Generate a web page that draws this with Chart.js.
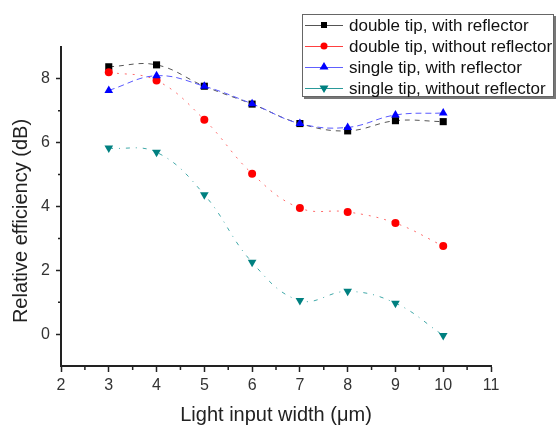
<!DOCTYPE html>
<html>
<head>
<meta charset="utf-8">
<title>Relative efficiency vs light input width</title>
<script src="https://cdn.jsdelivr.net/npm/chart.js@4/dist/chart.umd.min.js"></script>
<style>
  html, body { margin: 0; padding: 0; background: #fff; }
  #wrap { width: 557px; height: 428px; }
</style>
</head>
<body>
<div id="wrap"><canvas id="c" width="557" height="428"></canvas></div>
<script>
// Light input width (µm)
const widths = [3, 4, 5, 6, 7, 8, 9, 10];

// Relative efficiency (dB) per configuration
const doubleTipWithReflector    = [8.38, 8.44, 7.77, 7.21, 6.60, 6.37, 6.69, 6.66];
const doubleTipWithoutReflector = [8.21, 7.95, 6.72, 5.03, 3.95, 3.83, 3.48, 2.76];
const singleTipWithReflector    = [7.64, 8.10, 7.77, 7.22, 6.60, 6.48, 6.87, 6.93];
const singleTipWithoutReflector = [5.83, 5.70, 4.37, 2.25, 1.05, 1.34, 0.97, -0.04];

const seriesLabels = [
  'double tip, with reflector',
  'double tip, without reflector',
  'single tip, with reflector',
  'single tip, without reflector'
];

// Axis ticks
const xTickValues = [2, 3, 4, 5, 6, 7, 8, 9, 10, 11];
const yTickValues = [0, 2, 4, 6, 8];
const xMinorTicks = [2.5, 3.5, 4.5, 5.5, 6.5, 7.5, 8.5, 9.5, 10.5];
const yMinorTicks = [1, 3, 5, 7];

const FONT = '"Liberation Sans", Arial, sans-serif';
const AXIS_COLOR = '#222';

function pts(values) {
  return widths.map((x, i) => ({ x: x, y: values[i] }));
}

const datasets = [
  {
    label: seriesLabels[0], data: pts(doubleTipWithReflector),
    borderColor: '#555', borderWidth: 1, borderDash: [5, 5],
    pointStyle: 'rect', pointRadius: 5, pointBackgroundColor: '#000', pointBorderColor: '#000', pointBorderWidth: 0,
    order: 3, legendLine: '#555', legendMarker: 'rect'
  },
  {
    label: seriesLabels[1], data: pts(doubleTipWithoutReflector),
    borderColor: '#ff6b6b', borderWidth: 1, borderDash: [2, 6],
    pointStyle: 'circle', pointRadius: 4, pointBackgroundColor: '#ff0000', pointBorderColor: '#ff0000', pointBorderWidth: 0,
    order: 2, legendLine: '#ff4040', legendMarker: 'circle'
  },
  {
    label: seriesLabels[2], data: pts(singleTipWithReflector),
    borderColor: '#5a5aff', borderWidth: 1, borderDash: [6, 4],
    pointStyle: 'triangle', pointRadius: 5, pointBackgroundColor: '#0000ff', pointBorderColor: '#0000ff', pointBorderWidth: 0,
    order: 1, legendLine: '#6060ff', legendMarker: 'triangle'
  },
  {
    label: seriesLabels[3], data: pts(singleTipWithoutReflector),
    borderColor: '#40a8a8', borderWidth: 1, borderDash: [4, 6, 1, 6],
    pointStyle: 'triangle', pointRotation: 180, pointRadius: 5, pointBackgroundColor: '#008080', pointBorderColor: '#008080', pointBorderWidth: 0,
    order: 0, legendLine: '#2a9a9a', legendMarker: 'triangleDown'
  }
];

// Short minor tick marks outside both axes
const minorTicks = {
  id: 'minorTicks',
  afterDraw(chart) {
    const ctx = chart.ctx, x = chart.scales.x, y = chart.scales.y;
    ctx.save();
    ctx.strokeStyle = AXIS_COLOR;
    ctx.lineWidth = 1.5;
    ctx.beginPath();
    xMinorTicks.forEach(v => {
      const px = x.getPixelForValue(v);
      ctx.moveTo(px, y.bottom);
      ctx.lineTo(px, y.bottom + 4);
    });
    yMinorTicks.forEach(v => {
      const py = y.getPixelForValue(v);
      ctx.moveTo(x.left, py);
      ctx.lineTo(x.left - 3, py);
    });
    ctx.stroke();
    ctx.restore();
  }
};

// Axis titles
const axisTitles = {
  id: 'axisTitles',
  afterDraw(chart) {
    const ctx = chart.ctx, area = chart.chartArea;
    ctx.save();
    ctx.fillStyle = '#222';
    ctx.font = '20px ' + FONT;
    ctx.textAlign = 'center';
    ctx.textBaseline = 'middle';
    ctx.fillText('Light input width (\u03bcm)', (area.left + area.right) / 2, 415);
    ctx.translate(21, 221);
    ctx.rotate(-Math.PI / 2);
    ctx.fillText('Relative efficiency (dB)', 0, 0);
    ctx.restore();
  }
};

// Boxed legend in the upper right corner
const boxLegend = {
  id: 'boxLegend',
  afterDraw(chart) {
    const ctx = chart.ctx;
    const bx = 302, by = 14, bw = 252, bh = 83;
    ctx.save();
    ctx.fillStyle = '#777';
    ctx.fillRect(bx + 2, by + 2, bw, bh);
    ctx.fillStyle = '#fff';
    ctx.fillRect(bx, by, bw, bh);
    ctx.strokeStyle = '#666';
    ctx.lineWidth = 1;
    ctx.strokeRect(bx + 0.5, by + 0.5, bw - 1, bh - 1);

    const rows = [25, 46, 67, 88];
    chart.data.datasets.forEach((ds, i) => {
      const ry = rows[i];
      ctx.strokeStyle = ds.legendLine;
      ctx.lineWidth = 1;
      ctx.setLineDash([]);
      ctx.beginPath();
      ctx.moveTo(305, ry + 0.5);
      ctx.lineTo(343, ry + 0.5);
      ctx.stroke();

      const mx = 324;
      ctx.fillStyle = ds.pointBackgroundColor;
      ctx.beginPath();
      if (ds.legendMarker === 'rect') {
        ctx.rect(mx - 3, ry - 3, 6, 6);
      } else if (ds.legendMarker === 'circle') {
        ctx.arc(mx, ry, 3.5, 0, Math.PI * 2);
      } else if (ds.legendMarker === 'triangle') {
        ctx.moveTo(mx, ry - 5); ctx.lineTo(mx + 4.5, ry + 2.5); ctx.lineTo(mx - 4.5, ry + 2.5); ctx.closePath();
      } else {
        ctx.moveTo(mx, ry + 5); ctx.lineTo(mx + 4.5, ry - 2.5); ctx.lineTo(mx - 4.5, ry - 2.5); ctx.closePath();
      }
      ctx.fill();

      ctx.fillStyle = '#111';
      ctx.font = '17px ' + FONT;
      ctx.textAlign = 'left';
      ctx.textBaseline = 'middle';
      ctx.fillText(ds.label, 349, ry + 1);
    });
    ctx.restore();
  }
};

new Chart(document.getElementById('c'), {
  type: 'line',
  data: { datasets: datasets },
  options: {
    responsive: false,
    animation: false,
    events: [],
    layout: { padding: { top: 47, right: 66, left: 0, bottom: 0 } },
    elements: { line: { tension: 0.4, fill: false } },
    plugins: { legend: { display: false }, tooltip: { enabled: false } },
    scales: {
      x: {
        type: 'linear', min: 2, max: 11,
        afterBuildTicks: s => { s.ticks = xTickValues.map(v => ({ value: v })); },
        afterFit: s => { s.height = 62; },
        border: { display: true, color: AXIS_COLOR, width: 2 },
        grid: { drawOnChartArea: false, drawTicks: true, tickLength: 6, tickColor: AXIS_COLOR, tickWidth: 1.5 },
        ticks: { color: '#333', font: { size: 16, family: FONT }, padding: 4, maxRotation: 0 }
      },
      y: {
        type: 'linear', min: -1, max: 9,
        afterBuildTicks: s => { s.ticks = yTickValues.map(v => ({ value: v })); },
        afterFit: s => { s.width = 61; },
        border: { display: true, color: AXIS_COLOR, width: 2 },
        grid: { drawOnChartArea: false, drawTicks: true, tickLength: 5, tickColor: AXIS_COLOR, tickWidth: 1.5 },
        ticks: { color: '#333', font: { size: 16, family: FONT }, padding: 6 }
      }
    }
  },
  plugins: [minorTicks, axisTitles, boxLegend]
});
</script>
</body>
</html>
